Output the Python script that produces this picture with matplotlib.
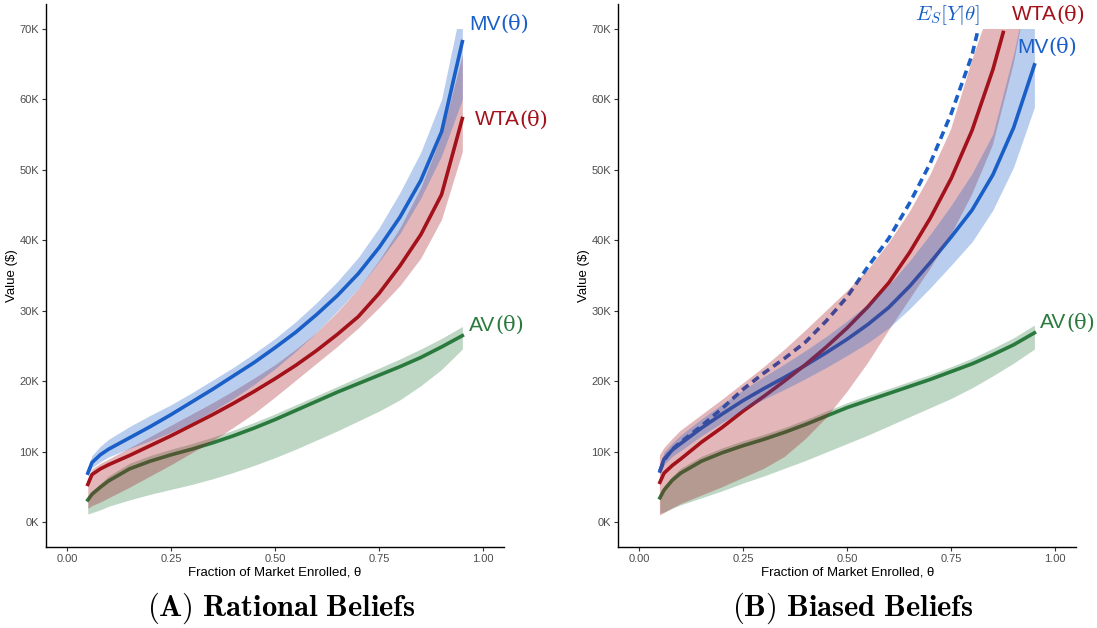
import numpy as np
import matplotlib
matplotlib.use("Agg")
import matplotlib.pyplot as plt
import matplotlib.ticker as mticker
from matplotlib.patches import Rectangle

plt.rcParams["font.family"] = ["Liberation Sans", "DejaVu Sans"]
plt.rcParams["mathtext.fontset"] = "cm"

# --------------------------
# Data (values in $K)
# --------------------------
theta = [0.05, 0.06, 0.08, 0.10, 0.15, 0.20, 0.25, 0.30, 0.35, 0.40, 0.45,
         0.50, 0.55, 0.60, 0.65, 0.70, 0.75, 0.80, 0.85, 0.90, 0.95]

# panel A: rational beliefs
mv_rat = [7.0, 8.5, 9.6, 10.4, 12.0, 13.6, 15.3, 17.1, 18.9, 20.8, 22.7,
          24.8, 27.0, 29.5, 32.2, 35.3, 39.0, 43.3, 48.5, 55.4, 68.2]
mv_rat_lo = [6.6, 7.8, 8.6, 9.3, 10.5, 11.6, 12.8, 14.2, 15.8, 17.6, 19.6,
             21.8, 24.3, 27.0, 30.0, 33.2, 37.0, 41.0, 46.0, 52.0, 60.0]
mv_rat_hi = [7.8, 9.5, 10.8, 11.8, 13.6, 15.2, 16.7, 18.4, 20.2, 22.0, 24.0,
             26.1, 28.5, 31.2, 34.2, 37.6, 41.8, 46.8, 52.5, 60.0, 74.0]
wta_rat = [5.4, 6.8, 7.6, 8.2, 9.5, 10.9, 12.3, 13.8, 15.3, 16.9, 18.6,
           20.4, 22.3, 24.4, 26.7, 29.2, 32.5, 36.4, 40.8, 46.5, 57.3]
wta_rat_lo = [2.0, 2.4, 2.9, 3.5, 5.0, 6.6, 8.2, 9.9, 11.6, 13.5, 15.5,
              17.8, 20.2, 22.6, 25.0, 27.6, 30.5, 33.6, 37.5, 43.0, 52.6]
wta_rat_hi = [6.2, 7.6, 8.4, 9.0, 10.6, 12.2, 13.8, 15.4, 17.0, 18.7, 20.5,
              22.4, 24.6, 27.0, 29.9, 33.2, 37.2, 41.8, 47.5, 55.0, 66.3]
av_rat = [3.2, 4.0, 5.0, 5.9, 7.6, 8.7, 9.6, 10.4, 11.3, 12.3, 13.4,
          14.6, 15.9, 17.2, 18.5, 19.7, 20.9, 22.1, 23.4, 24.9, 26.5]
av_rat_lo = [1.2, 1.4, 1.8, 2.3, 3.2, 4.0, 4.7, 5.4, 6.2, 7.1, 8.1,
             9.2, 10.4, 11.7, 13.0, 14.4, 15.8, 17.4, 19.4, 21.7, 24.6]
av_rat_hi = [3.6, 4.5, 5.5, 6.6, 8.4, 9.5, 10.4, 11.2, 12.1, 13.1, 14.2,
             15.4, 16.7, 18.0, 19.3, 20.6, 21.9, 23.2, 24.6, 26.1, 27.8]

# panel B: biased beliefs
es_theta = [0.05, 0.06, 0.08, 0.10, 0.15, 0.20, 0.25, 0.30, 0.35, 0.40,
            0.45, 0.50, 0.55, 0.60, 0.65, 0.70, 0.75, 0.80, 0.815]
es_bias = [7.3, 8.8, 10.4, 11.4, 13.7, 16.2, 18.9, 21.2, 23.3, 25.6,
           28.6, 32.0, 36.3, 40.3, 45.3, 51.0, 58.0, 66.3, 70.0]

mv_bias = [7.3, 9.0, 10.3, 11.2, 13.4, 15.4, 17.3, 19.0, 20.6, 22.3, 24.1,
           26.0, 28.1, 30.5, 33.5, 36.9, 40.5, 44.3, 49.3, 56.0, 64.9]
mv_bias_lo = [6.8, 8.2, 9.4, 10.2, 12.3, 14.2, 16.0, 17.5, 18.9, 20.4, 22.0,
              23.7, 25.5, 27.6, 30.3, 33.3, 36.5, 39.8, 44.3, 50.4, 58.9]
mv_bias_hi = [8.1, 10.0, 11.3, 12.4, 14.7, 16.8, 18.8, 20.7, 22.5, 24.4, 26.4,
              28.6, 31.0, 33.7, 37.1, 40.9, 45.0, 49.5, 55.1, 66.5, 80.0]

wta_theta = [0.05, 0.06, 0.08, 0.10, 0.15, 0.20, 0.25, 0.30, 0.35, 0.40, 0.45,
             0.50, 0.55, 0.60, 0.65, 0.70, 0.75, 0.80, 0.85, 0.875]
wta_bias = [5.7, 7.0, 8.1, 9.0, 11.4, 13.5, 15.8, 17.9, 20.1, 22.4, 24.9,
            27.6, 30.6, 34.0, 38.3, 43.2, 48.8, 55.6, 64.2, 69.5]
wta_band_theta = theta
wta_bias_lo = [1.0, 1.3, 2.0, 2.6, 3.8, 5.0, 6.3, 7.6, 9.3, 11.8, 14.8,
               18.5, 22.6, 27.2, 31.6, 36.0, 40.8, 46.5, 53.5, 65.0, 80.0]
wta_bias_hi = [9.5, 10.5, 11.8, 13.0, 15.2, 17.4, 19.7, 22.0, 24.5, 27.2, 30.0,
               32.8, 35.8, 39.6, 44.0, 49.3, 55.8, 65.5, 74.0, 85.0, 95.0]

av_bias = [3.5, 4.6, 6.0, 7.0, 8.7, 9.9, 10.9, 11.8, 12.8, 13.9, 15.1,
           16.3, 17.3, 18.3, 19.3, 20.3, 21.4, 22.5, 23.8, 25.2, 26.9]
av_bias_lo = [1.3, 1.5, 2.0, 2.5, 3.5, 4.5, 5.6, 6.6, 7.7, 8.8, 10.0,
              11.2, 12.4, 13.7, 15.0, 16.3, 17.6, 19.1, 20.8, 22.6, 24.6]
av_bias_hi = [3.9, 5.2, 6.6, 7.7, 9.4, 10.6, 11.6, 12.5, 13.5, 14.6, 15.8,
              17.0, 18.0, 19.0, 20.0, 21.0, 22.1, 23.3, 24.7, 26.2, 28.0]

BLUE = "#1a5fc8"
RED = "#a3111b"
GREEN = "#2a7a3e"
Y_CAP = 70000


def k(vals):
    return np.asarray(vals) * 1000.0


def band(ax, x, lo, hi, color):
    poly = ax.fill_between(x, k(lo), k(hi), color=color, alpha=0.3,
                           linewidth=0, zorder=3)
    # values above 70K are cut off like in the original scale
    poly.set_clip_path(Rectangle((-0.05, -3500), 1.1, 3500 + Y_CAP,
                                 transform=ax.transData))


def curve_label(ax, x, y, name, color, size=15):
    # sans name followed by a serif "(θ)"
    t = ax.text(x, y, name, color=color, fontsize=size, va="center",
                ha="left", clip_on=False)
    ax.annotate("(θ)", xy=(1, 0), xycoords=t, va="bottom", ha="left",
                color=color, fontsize=size, family=["DejaVu Serif"],
                annotation_clip=False)


def style_axes(ax):
    ax.set_xlim(-0.05, 1.05)
    ax.set_ylim(-3500, 73500)
    ax.set_xticks([0, 0.25, 0.5, 0.75, 1.0])
    ax.xaxis.set_major_formatter(mticker.FormatStrFormatter("%.2f"))
    ax.set_yticks(np.arange(0, 70001, 10000))
    ax.yaxis.set_major_formatter(
        mticker.FuncFormatter(lambda v, p: f"{int(round(v / 1000))}K"))
    for s in ["top", "right"]:
        ax.spines[s].set_visible(False)
    for s in ["left", "bottom"]:
        ax.spines[s].set_linewidth(1.0)
    ax.tick_params(axis="both", labelsize=8, labelcolor="#4d4d4d",
                   color="#333333", length=3, width=0.8, pad=2)
    ax.set_ylabel("Value ($)", fontsize=9.5, labelpad=1)
    ax.set_xlabel("Fraction of Market Enrolled, θ", fontsize=9.5,
                  labelpad=2)


fig = plt.figure(figsize=(10.97, 6.28), dpi=100)
axA = fig.add_axes([0.0421, 0.1287, 0.4173, 0.8645])
axB = fig.add_axes([0.5636, 0.1287, 0.4173, 0.8645])

lw = 2.6

# --- (A) rational
axA.plot(theta, k(av_rat), color=GREEN, lw=lw, zorder=2)
axA.plot(theta, k(wta_rat), color=RED, lw=lw, zorder=2)
axA.plot(theta, k(mv_rat), color=BLUE, lw=lw, zorder=2)
band(axA, theta, av_rat_lo, av_rat_hi, GREEN)
band(axA, theta, wta_rat_lo, wta_rat_hi, RED)
band(axA, theta, mv_rat_lo, mv_rat_hi, BLUE)
style_axes(axA)

curve_label(axA, 0.966, 70700, "MV", BLUE)
curve_label(axA, 0.98, 57100, "WTA", RED)
curve_label(axA, 0.966, 28000, "AV", GREEN)

# --- (B) biased
axB.plot(theta, k(av_bias), color=GREEN, lw=lw, zorder=2)
axB.plot(theta, k(mv_bias), color=BLUE, lw=lw, zorder=2)
axB.plot(wta_theta, k(wta_bias), color=RED, lw=lw, zorder=2)
axB.plot(es_theta, k(es_bias), color=BLUE, lw=lw, zorder=2,
         linestyle=(0, (2.2, 1.4)), dash_capstyle="butt")
band(axB, theta, av_bias_lo, av_bias_hi, GREEN)
band(axB, wta_band_theta, wta_bias_lo, wta_bias_hi, RED)
band(axB, theta, mv_bias_lo, mv_bias_hi, BLUE)
style_axes(axB)

axB.text(0.663, 72000, r"$E_S[Y|\theta]$", color=BLUE, fontsize=15,
         va="center", ha="left", clip_on=False)
curve_label(axB, 0.896, 72000, "WTA", RED)
curve_label(axB, 0.908, 67400, "MV", BLUE)
curve_label(axB, 0.963, 28300, "AV", GREEN)

# panel captions
fig.text(0.256, 0.020, r"$\mathbf{(A)\ Rational\ Beliefs}$", fontsize=22,
         ha="center", va="baseline")
fig.text(0.777, 0.020, r"$\mathbf{(B)\ Biased\ Beliefs}$", fontsize=22,
         ha="center", va="baseline")

fig.savefig("out.png", dpi=100)
